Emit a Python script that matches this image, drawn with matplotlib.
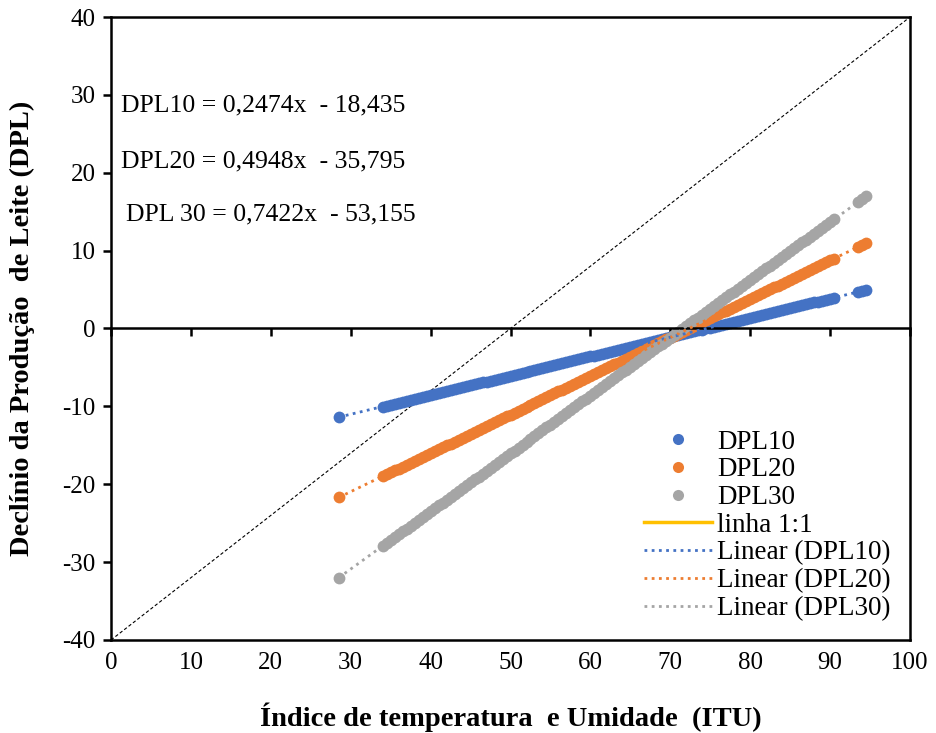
import matplotlib
matplotlib.use("Agg")
import matplotlib.pyplot as plt
from matplotlib.lines import Line2D

plt.rcParams['font.family'] = ['Liberation Serif', 'DejaVu Serif']
plt.rcParams['axes.unicode_minus'] = False

# ITU values (x) and milk production decline for production levels 10, 20, 30
itu = [28.5,
       34.0, 34.5, 35.0, 35.5, 36.0, 36.5, 37.0, 37.5, 38.0, 38.5, 39.0, 39.5,
       40.0, 40.5, 41.0, 41.5, 42.0, 42.5, 43.0, 43.5, 44.0, 44.5, 45.0, 45.5,
       46.0, 46.5, 47.0, 47.5, 48.0, 48.5, 49.0, 49.5, 50.0, 50.5, 51.0, 51.5,
       52.0, 52.5, 53.0, 53.5, 54.0, 54.5, 55.0, 55.5, 56.0, 56.5, 57.0, 57.5,
       58.0, 58.5, 59.0, 59.5, 60.0, 60.5, 61.0, 61.5, 62.0, 62.5, 63.0, 63.5,
       64.0, 64.5, 65.0, 65.5, 66.0, 66.5, 67.0, 67.5, 68.0, 68.5, 69.0, 69.5,
       70.0, 70.5, 71.0, 71.5, 72.0, 72.5, 73.0, 73.5, 74.0, 74.5, 75.0, 75.5,
       76.0, 76.5, 77.0, 77.5, 78.0, 78.5, 79.0, 79.5, 80.0, 80.5, 81.0, 81.5,
       82.0, 82.5, 83.0, 83.5, 84.0, 84.5, 85.0, 85.5, 86.0, 86.5, 87.0, 87.5,
       88.0, 88.5, 89.0, 89.5, 90.0, 90.5,
       93.5, 94.0, 94.5]

dpl10 = [-11.38,
         -10.02, -9.90, -9.78, -9.65, -9.53, -9.40, -9.28, -9.16, -9.03, -8.91, -8.79, -8.66,
         -8.54, -8.42, -8.29, -8.17, -8.04, -7.92, -7.80, -7.67, -7.55, -7.43, -7.30, -7.18,
         -7.05, -6.93, -6.81, -6.68, -6.56, -6.44, -6.31, -6.19, -6.07, -5.94, -5.82, -5.69,
         -5.57, -5.45, -5.32, -5.20, -5.08, -4.95, -4.83, -4.70, -4.58, -4.46, -4.33, -4.21,
         -4.09, -3.96, -3.84, -3.71, -3.59, -3.47, -3.34, -3.22, -3.10, -2.97, -2.85, -2.73,
         -2.60, -2.48, -2.35, -2.23, -2.11, -1.98, -1.86, -1.74, -1.61, -1.49, -1.36, -1.24,
         -1.12, -0.99, -0.87, -0.75, -0.62, -0.50, -0.37, -0.25, -0.13, 0.00, 0.12, 0.24,
         0.37, 0.49, 0.61, 0.74, 0.86, 0.99, 1.11, 1.23, 1.36, 1.48, 1.60, 1.73,
         1.85, 1.98, 2.10, 2.22, 2.35, 2.47, 2.59, 2.72, 2.84, 2.97, 3.09, 3.21,
         3.34, 3.46, 3.58, 3.71, 3.83, 3.95,
         4.70, 4.82, 4.94]

dpl20 = [-21.69,
         -18.97, -18.72, -18.48, -18.23, -17.98, -17.73, -17.49, -17.24, -16.99, -16.75, -16.50, -16.25,
         -16.00, -15.76, -15.51, -15.26, -15.01, -14.77, -14.52, -14.27, -14.02, -13.78, -13.53, -13.28,
         -13.03, -12.79, -12.54, -12.29, -12.04, -11.80, -11.55, -11.30, -11.06, -10.81, -10.56, -10.31,
         -10.07, -9.82, -9.57, -9.32, -9.08, -8.83, -8.58, -8.33, -8.09, -7.84, -7.59, -7.34,
         -7.10, -6.85, -6.60, -6.35, -6.11, -5.86, -5.61, -5.36, -5.12, -4.87, -4.62, -4.38,
         -4.13, -3.88, -3.63, -3.39, -3.14, -2.89, -2.64, -2.40, -2.15, -1.90, -1.65, -1.41,
         -1.16, -0.91, -0.66, -0.42, -0.17, 0.08, 0.33, 0.57, 0.82, 1.07, 1.32, 1.56,
         1.81, 2.06, 2.30, 2.55, 2.80, 3.05, 3.29, 3.54, 3.79, 4.04, 4.28, 4.53,
         4.78, 5.03, 5.27, 5.52, 5.77, 6.02, 6.26, 6.51, 6.76, 7.01, 7.25, 7.50,
         7.75, 7.99, 8.24, 8.49, 8.74, 8.98,
         10.47, 10.72, 10.96]

dpl30 = [-32.00,
         -27.92, -27.55, -27.18, -26.81, -26.44, -26.06, -25.69, -25.32, -24.95, -24.58, -24.21, -23.84,
         -23.47, -23.10, -22.72, -22.35, -21.98, -21.61, -21.24, -20.87, -20.50, -20.13, -19.76, -19.38,
         -19.01, -18.64, -18.27, -17.90, -17.53, -17.16, -16.79, -16.42, -16.05, -15.67, -15.30, -14.93,
         -14.56, -14.19, -13.82, -13.45, -13.08, -12.71, -12.33, -11.96, -11.59, -11.22, -10.85, -10.48,
         -10.11, -9.74, -9.37, -8.99, -8.62, -8.25, -7.88, -7.51, -7.14, -6.77, -6.40, -6.03,
         -5.65, -5.28, -4.91, -4.54, -4.17, -3.80, -3.43, -3.06, -2.69, -2.31, -1.94, -1.57,
         -1.20, -0.83, -0.46, -0.09, 0.28, 0.65, 1.03, 1.40, 1.77, 2.14, 2.51, 2.88,
         3.25, 3.62, 3.99, 4.37, 4.74, 5.11, 5.48, 5.85, 6.22, 6.59, 6.96, 7.33,
         7.71, 8.08, 8.45, 8.82, 9.19, 9.56, 9.93, 10.30, 10.67, 11.05, 11.42, 11.79,
         12.16, 12.53, 12.90, 13.27, 13.64, 14.01,
         16.24, 16.61, 16.98]

# fitted trend lines shown in the chart (slope, intercept)
trend_coefs = {"DPL10": (0.2474, -18.435), "DPL20": (0.4948, -35.795), "DPL30": (0.7422, -53.155)}
trend_range = [28.5, 94.5]

# reference diagonal drawn in the chart
diag_x = [0, 100]
diag_y = [-40, 40]

equations = ["DPL10 = 0,2474x  - 18,435", "DPL20 = 0,4948x  - 35,795", "DPL 30 = 0,7422x  - 53,155"]
eq_pos = [(1.3, 28.7), (1.3, 21.4), (1.9, 14.6)]

colors = {"DPL10": "#4472C4", "DPL20": "#ED7D31", "DPL30": "#A5A5A5"}
series = {"DPL10": dpl10, "DPL20": dpl20, "DPL30": dpl30}

fig = plt.figure(figsize=(9.37, 7.33), dpi=100)
ax = fig.add_axes([0.1185, 0.1269, 0.8527, 0.8499])

ax.plot(diag_x, diag_y, color="black", lw=0.8, ls=(0, (3, 2)), zorder=1)

for name, vals in series.items():
    ax.plot(itu, vals, ls="", marker="o", ms=8.5, mec="none", color=colors[name], zorder=2)

for name, (a, b) in trend_coefs.items():
    ys = [a * x + b for x in trend_range]
    ax.plot(trend_range, ys, color=colors[name], lw=2, ls=(0, (1, 1.6)), zorder=3)

for txt, (x, y) in zip(equations, eq_pos):
    ax.text(x, y, txt, fontsize=18.5, va="center", ha="left")

ax.set_xlim(0, 100)
ax.set_ylim(-40, 40)
ax.set_yticks(range(-40, 41, 10))
ax.set_xticks(range(0, 101, 10))

for sp in ax.spines.values():
    sp.set_linewidth(1.8)
ax.spines['bottom'].set_position(('data', 0))
ax.tick_params(axis='x', direction='out', length=6, width=1.8, labelbottom=False)
ax.tick_params(axis='y', direction='out', length=6, width=1.8, labelsize=18, pad=5)

sec = ax.secondary_xaxis('bottom')
sec.set_xticks(range(0, 101, 10))
sec.tick_params(length=0, labelsize=18, pad=9)
sec.spines['bottom'].set_linewidth(1.8)
sec.set_xlabel("Índice de temperatura  e Umidade  (ITU)", fontsize=20.5, fontweight="bold", labelpad=20)
ax.set_ylabel("Declínio da Produção  de Leite (DPL)", fontsize=20.5, fontweight="bold", labelpad=20)

handles = [
    Line2D([], [], ls="", marker="o", ms=8, mec="none", color=colors["DPL10"]),
    Line2D([], [], ls="", marker="o", ms=8, mec="none", color=colors["DPL20"]),
    Line2D([], [], ls="", marker="o", ms=8, mec="none", color=colors["DPL30"]),
    Line2D([], [], color="#FFC000", lw=2.5),
    Line2D([], [], color=colors["DPL10"], lw=2, ls=(0, (1, 1.6))),
    Line2D([], [], color=colors["DPL20"], lw=2, ls=(0, (1, 1.6))),
    Line2D([], [], color=colors["DPL30"], lw=2, ls=(0, (1, 1.6))),
]
labels = ["DPL10", "DPL20", "DPL30", "linha 1:1", "Linear (DPL10)", "Linear (DPL20)", "Linear (DPL30)"]
ax.legend(handles, labels, loc="lower right", frameon=False, fontsize=19.5,
          handlelength=2.5, handletextpad=0.2, labelspacing=0.1,
          borderaxespad=0.3)

fig.savefig("out.png", dpi=100)
